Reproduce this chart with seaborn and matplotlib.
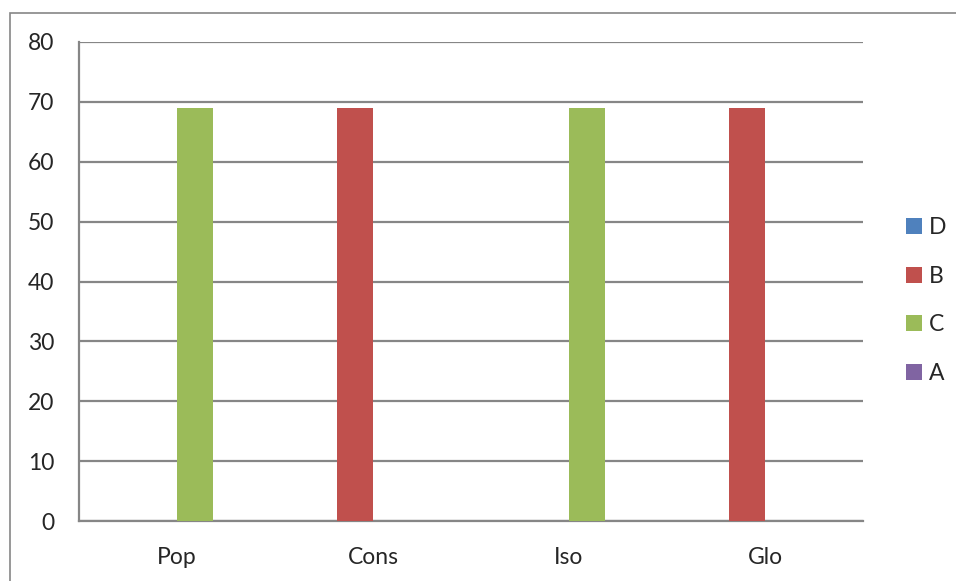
import matplotlib
matplotlib.use("Agg")
import matplotlib.pyplot as plt
from matplotlib.patches import Rectangle, Patch
import seaborn as sns
import pandas as pd

categories = ["Pop", "Cons", "Iso", "Glo"]
series = ["D", "B", "C", "A"]
values_D = [0, 0, 0, 0]
values_B = [0, 69, 0, 69]
values_C = [69, 0, 69, 0]
values_A = [0, 0, 0, 0]
colors = ["#4F81BD", "#C0504D", "#9BBB59", "#8064A2"]
y_ticks = [0, 10, 20, 30, 40, 50, 60, 70, 80]

rows = []
for name, vals in zip(series, [values_D, values_B, values_C, values_A]):
    for cat, v in zip(categories, vals):
        rows.append({"category": cat, "series": name, "value": v})
df = pd.DataFrame(rows)

sns.set_style("white")
plt.rcParams["font.family"] = ["Lato", "DejaVu Sans"]

W, H = 956, 581
fig = plt.figure(figsize=(W / 100, H / 100), dpi=100)
x0, x1, y0, y1 = 79, 863, 42, 521
ax = fig.add_axes([x0 / W, 1 - y1 / H, (x1 - x0) / W, (y1 - y0) / H])

grid_col = "#868686"
fs = 16.5
sns.barplot(data=df, x="category", y="value", hue="series", order=categories,
            hue_order=series, palette=colors, saturation=1, width=4 / 5.5,
            dodge=True, linewidth=0, errorbar=None, legend=False, ax=ax, zorder=3)

ax.set_xlim(-0.5, len(categories) - 0.5)
ax.set_ylim(0, 80)
ax.set_yticks(y_ticks)
ax.yaxis.grid(True, color=grid_col, linewidth=1.6, zorder=0)
ax.set_axisbelow(True)
ax.set_xlabel("")
ax.set_ylabel("")

for side in ["top", "right"]:
    ax.spines[side].set_visible(False)
for side in ["left", "bottom"]:
    ax.spines[side].set_color(grid_col)
    ax.spines[side].set_linewidth(1.6)

ax.set_xticks([i - 0.5 for i in range(len(categories) + 1)], minor=True)
ax.set_xticks(range(len(categories)))
ax.set_xticklabels(categories)
ax.tick_params(axis="x", which="major", length=0, pad=19, labelsize=fs)
ax.tick_params(axis="x", which="minor", length=6, width=1.6, color=grid_col)
ax.tick_params(axis="y", length=6, width=1.6, color=grid_col, pad=12, labelsize=fs,
               direction="out")

handles = [Patch(facecolor=c, edgecolor="none", label=s) for s, c in zip(series, colors)]
fig.legend(handles=handles, loc="center left", bbox_to_anchor=(906 / W, 1 - 300.5 / H),
           frameon=False, fontsize=fs, handlelength=0.7, handleheight=0.7,
           handletextpad=0.3, labelspacing=1.2, borderpad=0, borderaxespad=0)

fig.patches.append(Rectangle((9.5 / W, -0.1), 1.2, 1 - 13 / H + 0.1,
                             transform=fig.transFigure, fill=False,
                             edgecolor="#868686", linewidth=1.2))

fig.savefig("out.png", dpi=100)
